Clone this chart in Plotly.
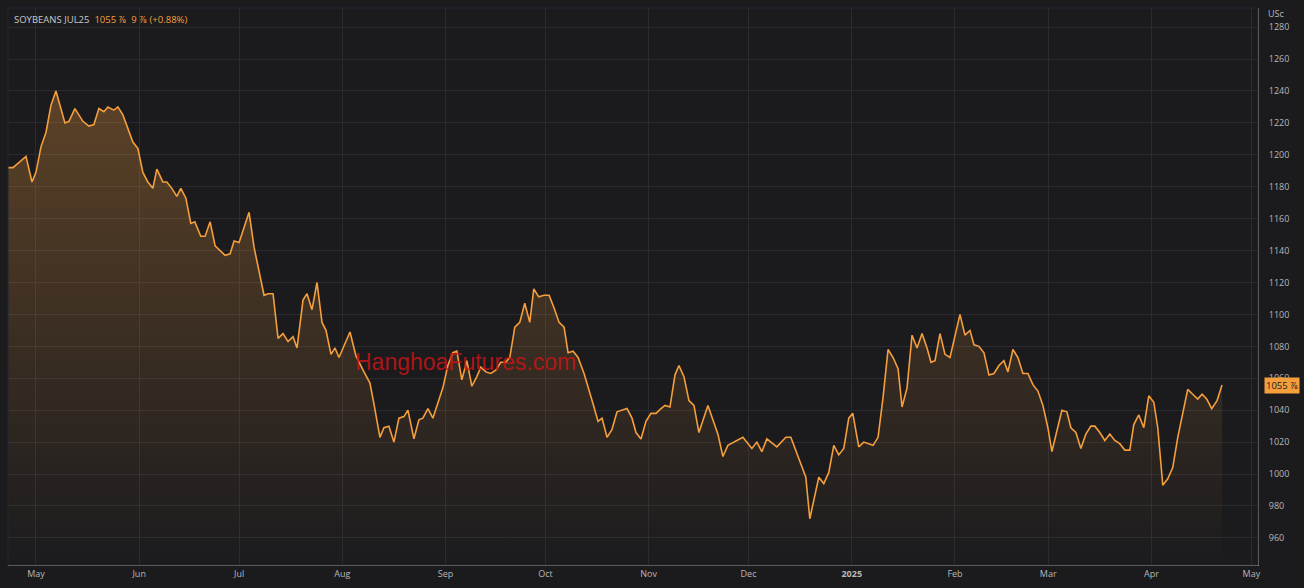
import plotly.graph_objects as go
from datetime import datetime, timedelta

# days after 2024-05-01 and settlement price (US cents/bushel)
days = [-8.4, -6.9, -3, -1.2, 0, 1.5, 3, 4.5, 6, 8.7, 9.9, 11.7, 14.1, 15.9, 17.4, 18.9, 20.4, 21.6,
        23.4, 24.6, 26.1, 27.6, 29.1, 30.6, 32.1, 33.6, 35.1, 36.3, 38.1, 39.3, 40.8, 42.3, 43.5,
        45, 46.5, 47.7, 49.5, 50.8, 52.3, 53.8, 55.3, 56.8, 58.3, 59.5, 61, 64, 65.5, 67, 68.5,
        69.7, 71.2, 72.7, 74.2, 75.7, 77.2, 78.4, 80.2, 81.4, 82.9, 84.4, 85.9, 87.1, 88.6, 89.8,
        91, 94.3, 96.1, 98.5, 100.3, 101.5, 103.3, 104.5, 106, 107.5, 109, 110.5, 111.7, 113.5, 115,
        116.2, 117.7, 119.2, 120.7, 122.2, 123.7, 125.2, 126.4, 127.9, 129.4, 130.9, 132.4, 133.6,
        135.1, 136.6, 138.1, 139.6, 141.1, 142.3, 143.8, 145.3, 146.8, 148.3, 149.5, 151, 152.6,
        154.1, 155.6, 157.1, 158.6, 159.8, 161.3, 162.8, 164.6, 166.1, 167.3, 168.8, 170, 171.5,
        173, 174.5, 176, 177.5, 179, 180.2, 181.7, 183.2, 184.7, 186.2, 187.7, 188.9, 190.4, 191.9,
        193.1, 194.6, 196.1, 197.6, 199.1, 201.8, 204.8, 206.3, 207.8, 209.6, 212.3, 215, 216.5,
        218, 219.5, 222.5, 225.2, 226.7, 229.1, 231.2, 232.4,
        235.1, 236.6, 238.1, 239.6, 241.1, 242.6, 244.1, 245.3, 247.1, 248.6, 250.2, 251.4, 252.9,
        254.4, 255.9, 257.4, 258.9, 260.1, 261.6, 263.1, 264.6, 266.1, 267.6, 268.8, 270, 271.5,
        273, 274.5, 277.5, 279, 280.5, 281.7, 283.2, 284.7, 286.2, 287.7, 289.2, 290.7, 291.9,
        293.4, 294.9, 296.4, 297.9, 299.4, 300.9, 302.4, 303.9, 305.1, 306.6, 308.1, 309.6, 310.8,
        312.3, 313.8, 315.3, 316.8, 318, 319.5, 321, 322.5, 324, 325.5, 327, 328.5, 329.7, 331.2,
        332.7, 334.2, 335.7, 336.9, 338.4, 339.9, 341.4, 342.9, 344.4, 345.9, 347.4, 348.9, 350.2,
        351.6, 353.1, 354.7, 356.2]
prices = [1192, 1192, 1199, 1183, 1189, 1205, 1214, 1231, 1240, 1220, 1221, 1229, 1221, 1218, 1219,
          1229, 1227, 1230, 1228, 1230, 1225, 1217, 1208, 1204, 1189, 1183, 1179, 1191, 1183, 1183,
          1179, 1174, 1179, 1173, 1157, 1158, 1149, 1149, 1158, 1143, 1140, 1137, 1138, 1146, 1145,
          1164, 1142, 1127, 1112, 1113, 1113, 1085, 1088, 1083, 1086, 1079, 1109, 1113, 1103, 1120,
          1095, 1090, 1075, 1079, 1073, 1089, 1074, 1064, 1057, 1044, 1023, 1029, 1030, 1020, 1035,
          1036, 1040, 1022, 1034,
          1035, 1041, 1035, 1045, 1054, 1068, 1076, 1077, 1059, 1071, 1055, 1061, 1067, 1064, 1063,
          1065, 1070, 1070, 1073, 1092, 1095, 1107, 1095, 1116, 1111, 1112, 1112, 1104, 1095, 1092,
          1076, 1077, 1073, 1063, 1053, 1044, 1033, 1035, 1023, 1028, 1039, 1040, 1041, 1035, 1026,
          1022, 1033, 1038, 1038, 1041, 1043, 1042, 1062, 1068, 1061, 1046, 1043, 1026, 1043, 1025,
          1011, 1018, 1020, 1023, 1016, 1020, 1014, 1022, 1017, 1023, 1023, 1010, 998, 972,
          998, 994, 1001, 1018, 1012, 1016, 1035, 1038, 1017, 1020, 1019, 1018, 1023, 1048, 1078,
          1073, 1066, 1042, 1054, 1087, 1079, 1088, 1079, 1070, 1071, 1088, 1075, 1073, 1100, 1087,
          1090, 1081, 1080, 1076, 1062, 1063, 1068, 1071, 1064, 1078, 1073, 1063, 1063, 1056, 1052,
          1043, 1029, 1014, 1027, 1040, 1039, 1029, 1026, 1016, 1025, 1030, 1030, 1026, 1021, 1025,
          1021, 1019, 1015, 1015, 1031, 1037, 1029, 1049, 1045, 1029, 993, 997, 1004, 1023, 1038,
          1053, 1050, 1047, 1050, 1047, 1041, 1046, 1055.75]

month_ticks = ["2024-05-01", "2024-06-01", "2024-07-01", "2024-08-01", "2024-09-01", "2024-10-01",
               "2024-11-01", "2024-12-01", "2025-01-01", "2025-02-01", "2025-03-01", "2025-04-01",
               "2025-05-01"]
month_labels = ["May", "Jun", "Jul", "Aug", "Sep", "Oct", "Nov", "Dec", "<b>2025</b>", "Feb", "Mar",
                "Apr", "May"]

base = datetime(2024, 5, 1)
dates = [base + timedelta(days=d) for d in days]

ORANGE = "#f59e3c"
GRID = "#2b2b2f"
TXT = "#b8b8b8"

fig = go.Figure()
fig.add_trace(go.Scatter(
    x=dates, y=prices, mode="lines",
    line=dict(color=ORANGE, width=1.6),
    fill="tozeroy",
    fillgradient=dict(type="vertical", start=943, stop=1240,
                      colorscale=[[0, "rgba(245,158,60,0.0)"], [1, "rgba(245,158,60,0.3)"]]),
    hoverinfo="x+y", showlegend=False,
))

fig.update_layout(
    width=1304, height=588,
    margin=dict(l=8, r=46, t=8, b=23),
    paper_bgcolor="#1b1b1e", plot_bgcolor="#1b1b1e",
    font=dict(family="Open Sans", size=9, color=TXT),
    xaxis=dict(
        range=[base + timedelta(days=-8.4), base + timedelta(days=367)],
        tickvals=month_ticks, ticktext=month_labels,
        showgrid=True, gridcolor=GRID, gridwidth=1,
        showline=True, linecolor="#8a8a8a", linewidth=1,
        ticks="", zeroline=False, tickfont=dict(size=9, color=TXT),
    ),
    yaxis=dict(
        side="right", range=[943, 1292], dtick=20, tick0=960,
        showgrid=True, gridcolor=GRID, gridwidth=1,
        showline=True, linecolor="#8a8a8a", linewidth=1,
        ticks="", zeroline=False, tickfont=dict(size=9, color=TXT),
        ticklabelstandoff=8,
    ),
    shapes=[
        dict(type="rect", xref="paper", yref="paper", x0=0, x1=1, y0=0, y1=1,
             line=dict(color="#222634", width=1)),
    ],
    annotations=[
        dict(xref="paper", yref="paper", x=0.003, y=0.995, xanchor="left", yanchor="top",
             showarrow=False, font=dict(size=9.5, color="#c8c8c8"),
             text="SOYBEANS JUL25  <span style='color:#f59e3c'>1055 ⅞  9 ⅞ (+0.88%)</span>"),
        dict(xref="paper", yref="paper", x=1.0, y=1.0, xanchor="left", yanchor="bottom",
             xshift=8, yshift=-14, showarrow=False, font=dict(size=9, color=TXT), text="USc"),
        dict(xref="paper", yref="y", x=1.0, y=prices[-1], xanchor="left", yanchor="middle",
             xshift=6, showarrow=False, font=dict(size=9.5, color="#1b1b1e"), text="1055 ⅞",
             bgcolor=ORANGE, borderpad=1),
        dict(xref="paper", yref="paper", x=0.366, y=0.365, xanchor="center", yanchor="middle",
             showarrow=False, font=dict(family="Liberation Sans", size=23, color="rgba(200,20,20,0.85)"),
             text="HanghoaFutures.com"),
    ],
)

fig.write_html("out.html", config={"displayModeBar": False},
               post_script="document.body.style.margin='0';document.body.style.background='#1e2230';")
